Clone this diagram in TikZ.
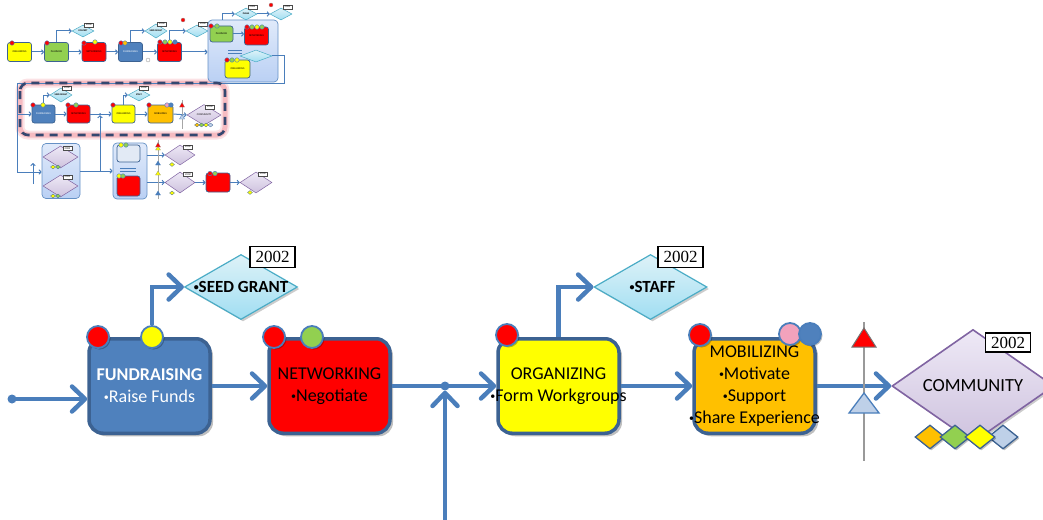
\documentclass[tikz,border=0pt]{standalone}
\usepackage{fontspec}
\setmainfont{Carlito}
\newfontfamily\yearfont{Liberation Serif}
\usetikzlibrary{arrows.meta,shapes.geometric,shadows}

\definecolor{flowblue}{RGB}{74,126,187}
\definecolor{edgeblue}{RGB}{60,98,146}
\definecolor{fundblue}{RGB}{79,129,189}
\definecolor{netred}{RGB}{255,0,0}
\definecolor{orgyellow}{RGB}{255,255,0}
\definecolor{mobiorange}{RGB}{255,192,0}
\definecolor{plangreen}{RGB}{146,208,80}
\definecolor{dotpink}{RGB}{242,162,188}
\definecolor{cyanlight}{RGB}{222,242,248}
\definecolor{cyanmid}{RGB}{160,222,242}
\definecolor{cyanedge}{RGB}{75,172,198}
\definecolor{lavlight}{RGB}{238,233,246}
\definecolor{lavmid}{RGB}{206,194,222}
\definecolor{lavedge}{RGB}{128,100,162}
\definecolor{paleblue}{RGB}{190,208,232}
\definecolor{groupfill}{RGB}{186,208,244}
\definecolor{dashnavy}{RGB}{52,72,112}
\definecolor{glowpink}{RGB}{240,140,150}

% small list bullet
\newcommand\bul{\raisebox{0.25ex}{\fontsize{10}{10}\selectfont•}}

\tikzset{
  % main flow
  stagebox/.style={draw=edgeblue, line width=3.5pt, rounded corners=14pt,
    minimum width=121pt, minimum height=94.5pt, inner sep=0pt,
    drop shadow={shadow xshift=3pt, shadow yshift=-3pt, opacity=0.25, fill=black}},
  stagetext/.style={align=center, inner sep=0pt, font=\fontsize{18}{22}\selectfont},
  flow/.style={draw=flowblue, line width=4.5pt,
    -{Straight Barb[length=13pt,width=25pt,round]}},
  flowline/.style={draw=flowblue, line width=4.5pt},
  knot/.style={circle, fill=flowblue, minimum size=9pt, inner sep=0pt},
  dot/.style={circle, draw=flowblue, line width=1.8pt, minimum size=22pt, inner sep=0pt,
    drop shadow={shadow xshift=1.5pt, shadow yshift=-1.5pt, opacity=0.25, fill=black}},
  gate/.style={diamond, draw=cyanedge, line width=1.2pt, top color=cyanlight,
    bottom color=cyanmid, minimum width=113pt, minimum height=65pt, inner sep=0pt,
    drop shadow={shadow xshift=2pt, shadow yshift=-2pt, opacity=0.2, fill=black}},
  gatetext/.style={inner sep=0pt, font=\bfseries\fontsize{17}{20}\selectfont},
  goal/.style={diamond, draw=lavedge, line width=1.6pt, top color=lavlight,
    bottom color=lavmid, minimum width=162pt, minimum height=113pt, inner sep=0pt,
    drop shadow={shadow xshift=2pt, shadow yshift=-2pt, opacity=0.2, fill=black}},
  chip/.style={diamond, draw=edgeblue, line width=1.3pt, minimum width=30pt,
    minimum height=24pt, inner sep=0pt,
    drop shadow={shadow xshift=1.5pt, shadow yshift=-1.5pt, opacity=0.25, fill=black}},
  yearbox/.style={draw=black, fill=white, line width=1.6pt, minimum width=45pt,
    minimum height=21pt, inner sep=0pt, font=\yearfont\fontsize{17}{17}\selectfont},
  % overview sketch
  tbox/.style={draw=edgeblue, line width=0.7pt, rounded corners=2.5pt,
    minimum width=24pt, minimum height=19pt, inner sep=0pt, align=center,
    font=\fontsize{2.6}{3}\selectfont},
  tflow/.style={draw=flowblue, line width=1pt, -{Straight Barb[length=2pt,width=4.5pt]}},
  tline/.style={draw=flowblue, line width=1pt},
  tdot/.style={circle, draw=flowblue, line width=0.4pt, minimum size=4.5pt, inner sep=0pt},
  tgate/.style={diamond, draw=cyanedge, line width=0.5pt, top color=cyanlight,
    bottom color=cyanmid, minimum width=22pt, minimum height=12pt, inner sep=0pt,
    font=\bfseries\fontsize{2.4}{3}\selectfont},
  tgoal/.style={diamond, draw=lavedge, line width=0.5pt, top color=lavlight,
    bottom color=lavmid, minimum width=30pt, minimum height=20pt, inner sep=0pt,
    font=\fontsize{2.6}{3}\selectfont},
  tchip/.style={diamond, draw=edgeblue, line width=0.3pt, minimum width=5pt,
    minimum height=4pt, inner sep=0pt},
  tyear/.style={draw=black!70, fill=white, line width=0.3pt, minimum width=9pt,
    minimum height=4pt, inner sep=0pt, font=\yearfont\fontsize{2.8}{3}\selectfont},
  tgroup/.style={draw=flowblue!85, line width=0.7pt, rounded corners=4pt,
    top color=groupfill!45, bottom color=groupfill, inner sep=0pt},
  tmark/.style={circle, draw=black!45, line width=0.3pt, minimum size=4pt, inner sep=0pt},
}

\begin{document}
\begin{tikzpicture}[x=1pt,y=-1pt]
\useasboundingbox (0,0) rectangle (1043,519);

% ===================== overview sketch =====================
% highlighted row frame
\draw[glowpink, line width=9pt, opacity=0.25, rounded corners=8pt] (20,83) rectangle (225,135);
\draw[glowpink, line width=5pt, opacity=0.45, rounded corners=8pt] (20,83) rectangle (225,135);

% first row
\node[tbox, fill=orgyellow] (ta1) at (19.5,52) {ORGANIZING};
\node[tbox, fill=plangreen] (ta2) at (56.5,52) {PLANNING};
\node[tbox, fill=netred] (ta3) at (94,52) {NETWORKING};
\node[tbox, fill=fundblue, text=white] (ta4) at (130.5,52) {FUNDRAISING};
\node[tbox, fill=netred] (ta5) at (169.5,52) {NETWORKING};
\node[tgate] (tc1) at (83,31) {CONCEPT};
\node[tgate] (tc2) at (156,31) {SEED GRANT};
\node[tgate] (tc3) at (197,31) {};
\node[tyear] at (89,25) {2002};
\node[tyear] at (162,24) {2002};
\node[tyear] at (203,24) {2002};
\draw[tflow] (ta1.east) -- (ta2.west);
\draw[tflow] (ta2.east) -- (ta3.west);
\draw[tflow] (ta3.east) -- (ta4.west);
\draw[tflow] (ta4.east) -- (ta5.west);
\draw[tflow] (ta2.north) |- (tc1.west);
\draw[tflow] (ta4.north) |- (tc2.west);
\draw[tflow] (ta5.north) |- (tc3.west);
\node[tdot, fill=netred] at (12,43) {};
\node[tdot, fill=netred] at (47,43) {};
\node[tdot, fill=netred] at (84,43) {};
\node[tdot, fill=orgyellow] at (95,42) {};
\node[tdot, fill=netred] at (121,43) {};
\node[tdot, fill=mobiorange] at (125,43) {};
\node[tdot, fill=netred] at (160,42) {};
\node[tdot, fill=plangreen] at (165,42) {};
\node[tdot, fill=orgyellow] at (170,42) {};
\node[tdot, fill=fundblue] at (175,42) {};
\node[tmark, fill=netred] at (183,20) {};
\node[tmark, fill=white] at (148,60) {};

% first group
\node[tgroup, minimum width=70pt, minimum height=62pt] (tg1) at (243,51) {};
\draw[tflow] (ta5.east) -- (ta5.east -| tg1.west);
\node[tbox, fill=plangreen, minimum width=23pt, minimum height=16pt] (tb1) at (221.5,34) {PLANNING};
\node[tbox, fill=netred, minimum height=18pt] (tb2) at (256.5,36) {NETWORKING};
\node[tbox, fill=orgyellow, minimum width=25pt, minimum height=18pt] (tb3) at (237.5,69) {ORGANIZING};
\node[tgate, minimum width=32pt] (tc4) at (256,56) {};
\draw[tflow] (tb1.east) -- (tb1.east -| tb2.west);
\draw[flowblue, line width=0.6pt] (228,50) -- (242,50) (228,53) -- (242,53);
\node[tdot, fill=netred] at (211,26) {};
\node[tdot, fill=plangreen] at (217,26) {};
\node[tdot, fill=netred] at (247,27) {};
\node[tdot, fill=plangreen] at (252,27) {};
\node[tdot, fill=orgyellow] at (257,27) {};
\node[tdot, fill=plangreen] at (262,27) {};
\node[tdot, fill=netred] at (227,60) {};
\node[tdot, fill=plangreen] at (232,60) {};
\node[tdot, fill=orgyellow] at (237,60) {};
\node[tgate] (tc5) at (246,14) {PLANS};
\node[tgate] (tc6) at (281,14) {};
\node[tyear] at (252.5,7) {2002};
\node[tyear] at (287.5,7) {2002};
\node[tmark, fill=netred] at (271,5) {};
\draw[tflow] ([xshift=-21pt]tg1.north) |- (tc5.west);
\draw[tflow] (tc5.east) -- (tc6.west);

% return line to second row
\coordinate (tr1) at (284,83);
\coordinate (tr2) at (17,83);
\coordinate (tr3) at (17,172);
\coordinate (tr4) at (17,114);
\draw[tline] (tc4.east) -| (tr1) -- (tr2) -- (tr3);

% second row (highlighted)
\node[tbox, fill=fundblue, text=white, minimum width=23pt, minimum height=18pt] (tf1) at (43.5,114) {FUNDRAISING};
\node[tbox, fill=netred, minimum width=23pt, minimum height=18pt] (tf2) at (78.5,114) {NETWORKING};
\node[circle, fill=flowblue, minimum size=2pt, inner sep=0pt] (tj) at (100,114) {};
\node[tbox, fill=orgyellow, minimum width=23pt, minimum height=18pt] (tf3) at (123.5,114) {ORGANIZING};
\node[tbox, fill=mobiorange, minimum width=25pt, minimum height=18pt] (tf4) at (160.5,114) {MOBILIZING};
\node[tgoal, minimum width=34pt, minimum height=21pt] (tf5) at (204,115) {COMMUNITY};
\node[tgate] (ts1) at (61,95) {SEED GRANT};
\node[tgate] (ts2) at (139,95) {STAFF};
\node[tyear] at (67,88) {2002};
\node[tyear] at (144,88) {2002};
\node[tyear] at (210,107) {2002};
\draw[tflow] (tr4) -- (tf1.west);
\draw[tflow] (tf1.east) -- (tf2.west);
\draw[tline] (tf2.east) -- (tj.center);
\draw[tflow] (tj.center) -- (tf3.west);
\draw[tflow] (tf3.east) -- (tf4.west);
\draw[tflow] (tf4.east) -- (tf5.west);
\draw[tflow] (tf1.north) |- (ts1.west);
\draw[tflow] (tf3.north) |- (ts2.west);
\node[tdot, fill=netred] at (33,105) {};
\node[tdot, fill=orgyellow] at (43,105) {};
\node[tdot, fill=netred] at (68,105) {};
\node[tdot, fill=plangreen] at (76,105) {};
\node[tdot, fill=netred] at (113,105) {};
\node[tdot, fill=netred] at (149,105) {};
\node[tdot, fill=dotpink] at (167,105) {};
\node[tdot, fill=fundblue] at (171,105) {};
\draw[gray!70, line width=0.5pt] (182,100) -- (182,129);
\draw[fill=netred, draw=black!50, line width=0.2pt] (179.5,107) -- (182,102.5) -- (184.5,107) -- cycle;
\draw[fill=paleblue, draw=flowblue, line width=0.3pt] (179.5,119) -- (182,114.5) -- (184.5,119) -- cycle;
\node[tchip, fill=mobiorange] at (197,125) {};
\node[tchip, fill=plangreen] at (201.5,125) {};
\node[tchip, fill=orgyellow] at (206,125) {};
\node[tchip, fill=paleblue] at (210.5,125) {};

% highlight frame dashes
\draw[dashnavy, line width=2.6pt, dash pattern=on 8pt off 6pt, rounded corners=8pt] (20,83) rectangle (225,135);

% second group
\node[tgroup, minimum width=38pt, minimum height=55pt] (tg2) at (61,171) {};
\node[tgoal, minimum width=35pt, minimum height=22pt] (td1) at (60.5,157) {};
\node[tgoal, minimum width=35pt, minimum height=22pt] (td2) at (60.5,186) {};
\node[tyear] at (67.5,148.5) {2002};
\node[tyear] at (67.5,177) {2002};
\node[tchip, fill=orgyellow] at (53,167) {};
\node[tchip, fill=plangreen] at (58,167) {};
\node[tchip, fill=orgyellow] at (53,196) {};
\node[tchip, fill=plangreen] at (58,196) {};
\draw[tflow] (tr3) -- (tr3 -| tg2.west);
\coordinate (tu1) at (33,184);
\coordinate (tu2) at (33,163);
\draw[tflow] (tu1) -- (tu2);

% third group
\node[tgroup, minimum width=34pt, minimum height=56pt] (tg3) at (130,171) {};
\node[tbox, fill=paleblue!45, minimum width=23pt, minimum height=17pt] (th1) at (128.5,153.5) {};
\node[tbox, fill=netred, minimum width=23pt, minimum height=20pt] (th2) at (128.5,186) {};
\draw[flowblue, line width=0.6pt] (120,168) -- (136,168) (120,171) -- (136,171);
\node[tdot, fill=orgyellow] at (121,145) {};
\node[tdot, fill=plangreen] at (126,145) {};
\node[tdot, fill=orgyellow] at (119,176) {};
\node[tdot, fill=plangreen] at (123,176) {};
\coordinate (tj2) at (100,171);
\draw[tflow] (tg2.east) -- (tg3.west);
\draw[tflow] (tj2) -- (tj.south);

% right branch
\node[tgoal] (td3) at (180,155) {};
\node[tgoal, minimum height=21pt] (td4) at (180,182.5) {};
\node[tbox, fill=netred, minimum height=19pt] (tr) at (218,182.5) {};
\node[tgoal, minimum width=32pt, minimum height=21pt] (td5) at (256,182.5) {};
\node[tyear] at (188,147) {2002};
\node[tyear] at (188,174.5) {2002};
\node[tyear] at (263,174) {2002};
\node[tchip, fill=orgyellow] at (172,164.5) {};
\node[tchip, fill=orgyellow] at (172,193) {};
\node[tchip, fill=orgyellow] at (250,192.5) {};
\node[tdot, fill=netred] at (210,173.5) {};
\node[tdot, fill=plangreen] at (215,173.5) {};
\draw[tflow] (td3.west -| tg3.east) -- (td3.west);
\draw[tflow] (td4.west -| tg3.east) -- (td4.west);
\draw[tflow] (td4.east) -- (tr.west);
\draw[tflow] (tr.east) -- (td5.west);
\draw[gray!70, line width=0.5pt] (158,140) -- (158,199);
\draw[fill=netred, draw=black!50, line width=0.2pt] (155.5,147) -- (158,142.5) -- (160.5,147) -- cycle;
\draw[fill=orgyellow, draw=black!50, line width=0.2pt] (155.5,150) -- (158,146.5) -- (160.5,150) -- cycle;
\draw[fill=flowblue, draw=flowblue, line width=0.2pt] (155.5,165) -- (158,161) -- (160.5,165) -- cycle;
\draw[fill=orgyellow, draw=black!50, line width=0.2pt] (155.5,175) -- (158,171) -- (160.5,175) -- cycle;
\draw[fill=flowblue, draw=flowblue, line width=0.2pt] (155.5,195) -- (158,191) -- (160.5,195) -- cycle;

% ===================== main flow =====================
\node[stagebox, fill=fundblue] (fund) at (149.5,386) {};
\node[stagebox, fill=netred] (net) at (329.5,386) {};
\node[stagebox, fill=orgyellow] (org) at (558.5,386) {};
\node[stagebox, fill=mobiorange] (mob) at (754.5,386) {};

\node[stagetext, text=white] (fundtxt) at (fund.center) {\textbf{FUNDRAISING}\\\bul Raise Funds};
\node[stagetext] (nettxt) at (net.center) {NETWORKING\\\bul Negotiate};
\node[stagetext] (orgtxt) at (org.center) {ORGANIZING\\\bul Form Workgroups};
\node[stagetext] (mobtxt) at (mob.center) {MOBILIZING\\\bul Motivate\\\bul Support\\\bul Share Experience};

% status dots
\node[dot, fill=netred] (fdot1) at (98,337) {};
\node[dot, fill=orgyellow] (fdot2) at (152,337) {};
\node[dot, fill=netred] (ndot1) at (274,337) {};
\node[dot, fill=plangreen] (ndot2) at (312,337) {};
\node[dot, fill=netred] (odot1) at (507,335) {};
\node[dot, fill=netred] (mdot1) at (700,335) {};
\node[dot, fill=dotpink] (mdot2) at (790,334) {};
\node[dot, fill=fundblue] (mdot3) at (810,334) {};

% decisions
\node[gate] (seed) at (241,287) {};
\node[gatetext] (seedtxt) at (seed.center) {\bul SEED GRANT};
\node[gate] (staff) at (650.5,287) {};
\node[gatetext] (stafftxt) at ([xshift=2pt]staff.center) {\bul STAFF};
\node[yearbox] (seedyear) at (272.5,257) {2002};
\node[yearbox] (staffyear) at (680.5,257) {2002};

% community goal
\node[goal] (comm) at (973,386) {};
\node[inner sep=0pt, font=\fontsize{18.5}{20}\selectfont] (commtxt) at (comm.center) {COMMUNITY};
\node[yearbox, minimum height=19pt] (commyear) at (1008,342.5) {2002};
\node[chip, fill=mobiorange] (chip1) at (930,437) {};
\node[chip, fill=plangreen] (chip2) at (955,437) {};
\node[chip, fill=paleblue] (chip4) at (1003,437) {};
\node[chip, fill=orgyellow] (chip3) at (980,437) {};

% connectors
\node[knot] (start) at (12,399) {};
\node[knot] (junc) at (445,386) {};
\coordinate (feed) at (445,525);
\draw[flow] (start.center) -- (start -| fund.west);
\draw[flow] (fund.east) -- (net.west);
\draw[flowline] (net.east) -- (junc.center);
\draw[flow] (junc.center) -- (org.west);
\draw[flow] (feed) -- (junc.south);
\draw[flow] (org.east) -- (mob.west);
\draw[flow] (mob.east) -- (comm.west);
\draw[flow] (fdot2.north) |- (seed.west);
\draw[flow] (org.north) |- (staff.west);

% milestone gauge
\coordinate (gtop) at (864,322);
\coordinate (gbot) at (864,461);
\draw[black!40, line width=2pt] (gtop) -- (gbot);
\draw[fill=netred, draw=black!55, line width=1pt] (852,347) -- (864,328) -- (876,347) -- cycle;
\draw[fill=paleblue, draw=flowblue, line width=1.3pt] (849,413) -- (864,393) -- (879,413) -- cycle;

\end{tikzpicture}
\end{document}
